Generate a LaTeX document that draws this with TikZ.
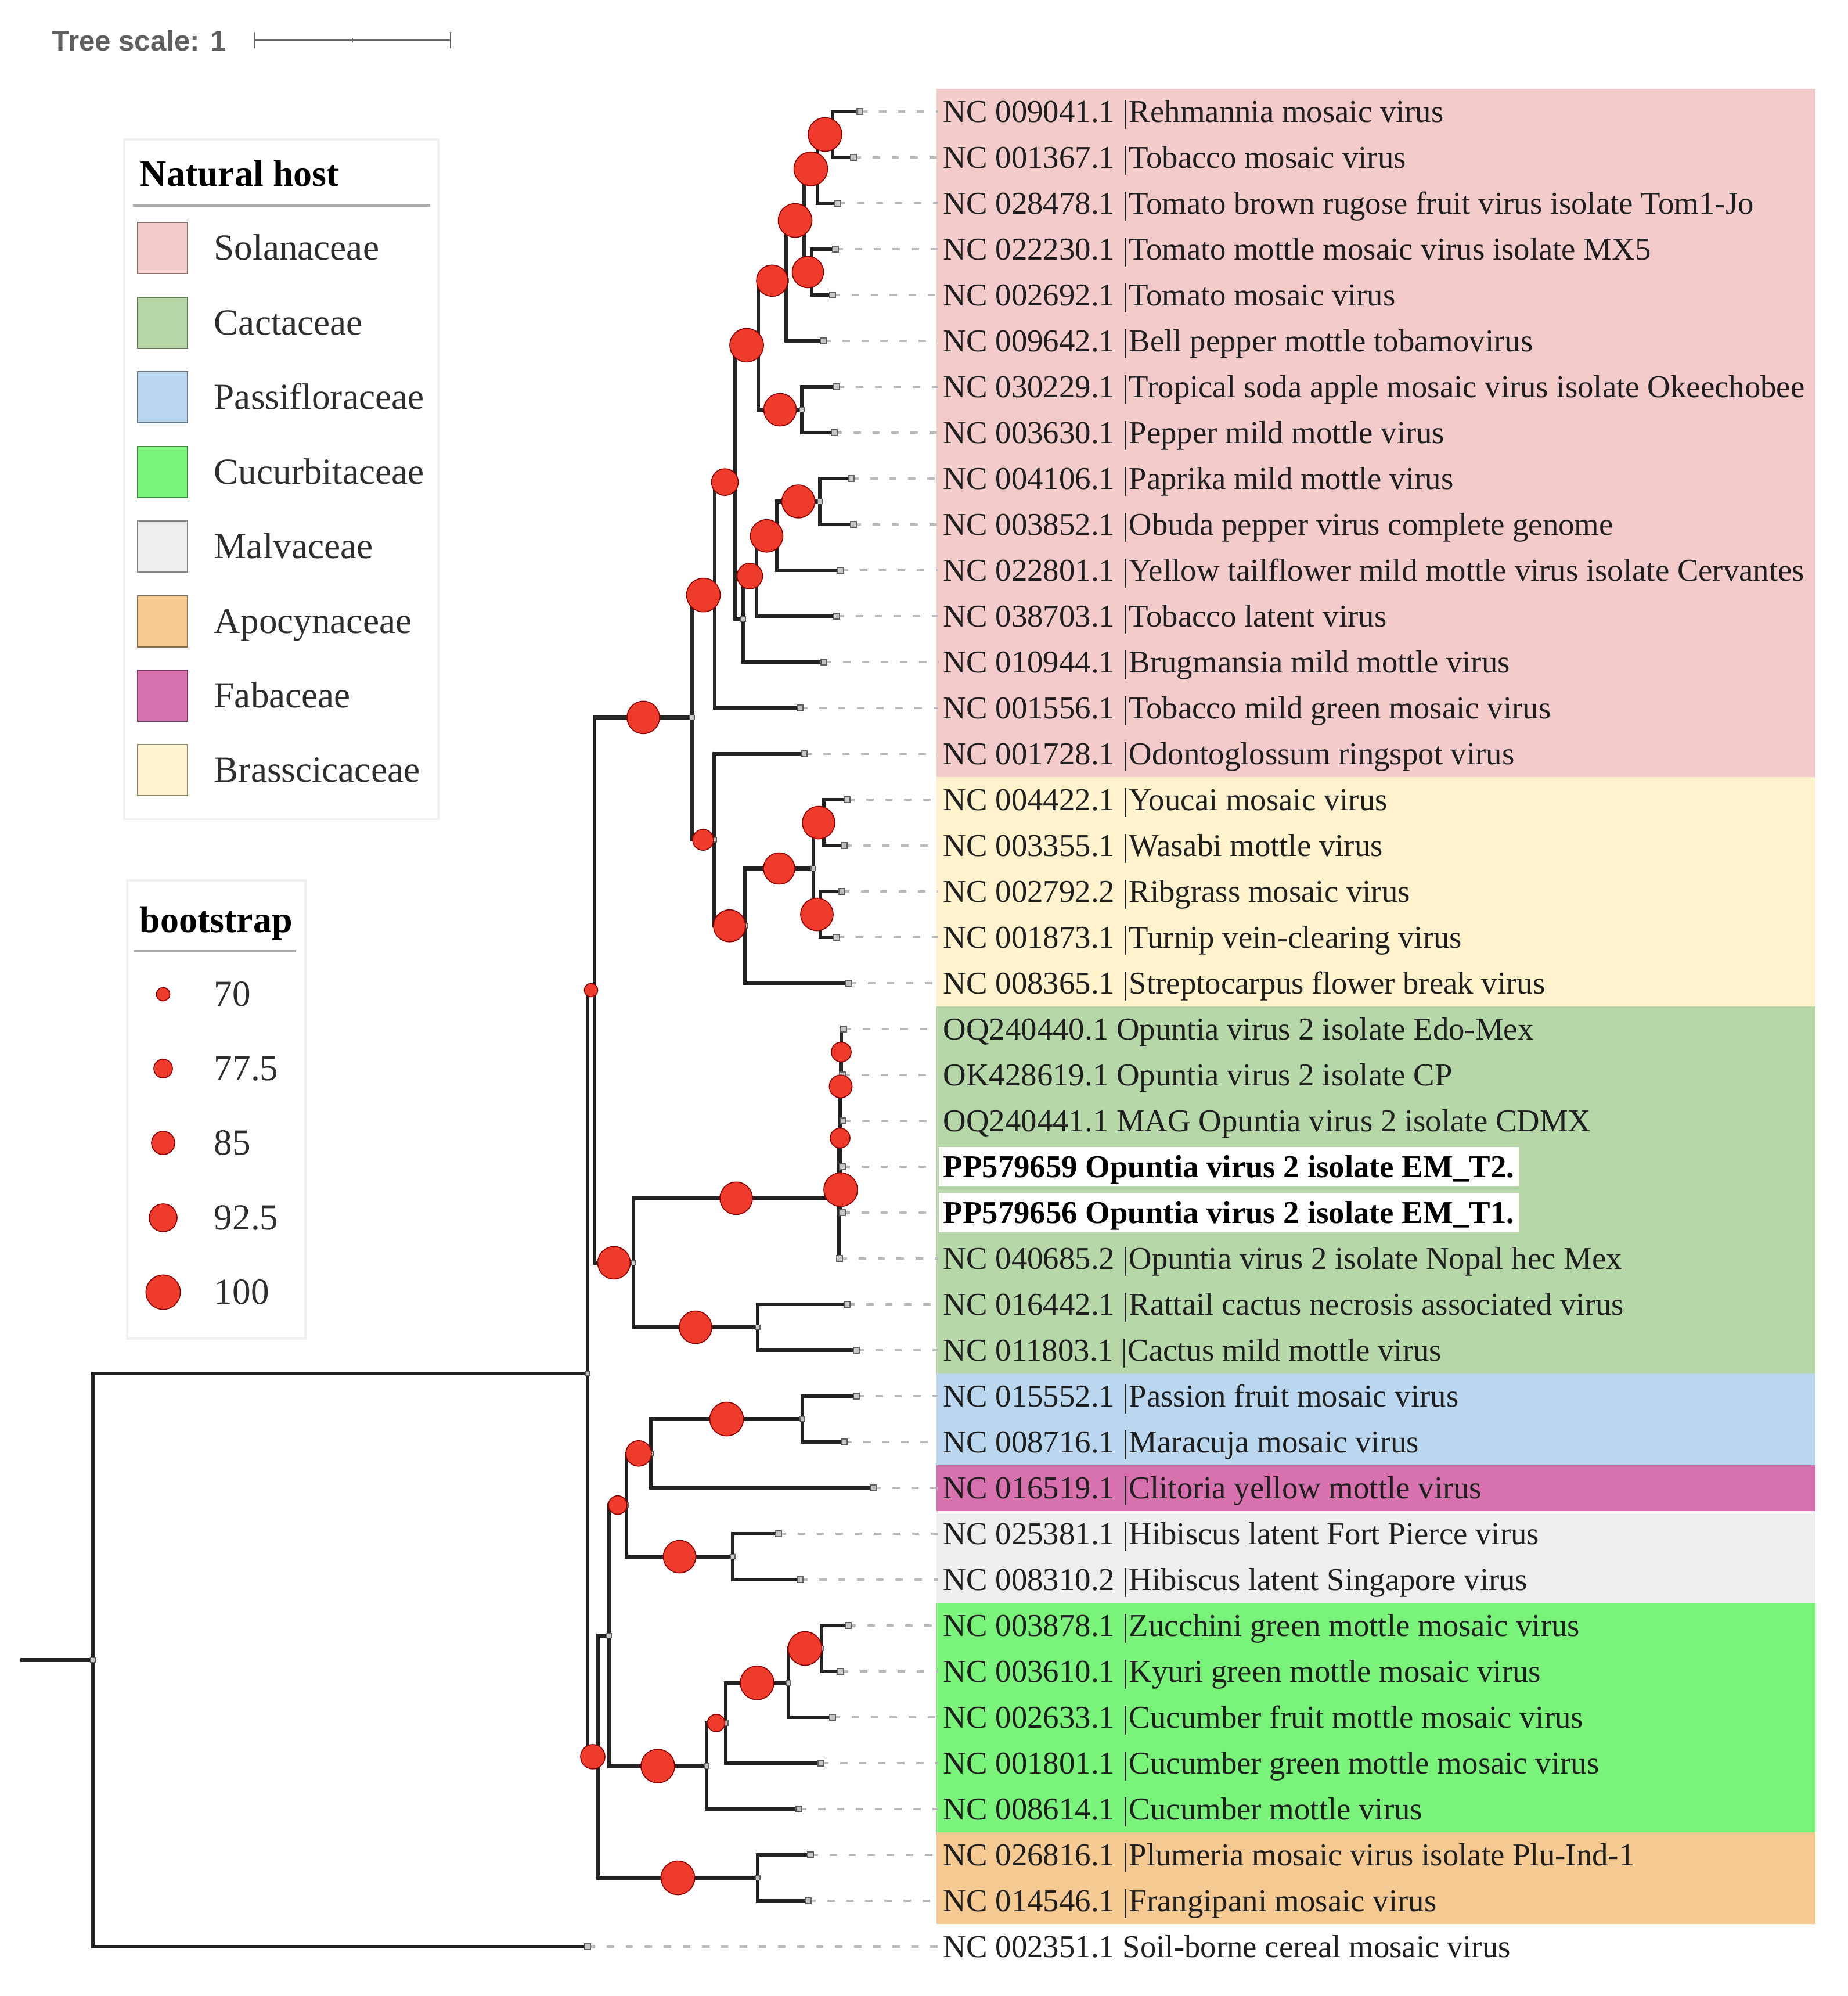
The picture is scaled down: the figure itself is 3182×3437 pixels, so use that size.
\documentclass[tikz,border=0pt]{standalone}
\usepackage{fontspec}
\setmainfont{Liberation Serif}
\newfontfamily\sansfont{Liberation Sans}
\usetikzlibrary{calc}
\definecolor{solc}{RGB}{243,203,203}
\definecolor{cacc}{RGB}{182,215,168}
\definecolor{pasc}{RGB}{187,215,240}
\definecolor{cucc}{RGB}{122,243,122}
\definecolor{malc}{RGB}{238,238,238}
\definecolor{apoc}{RGB}{244,201,146}
\definecolor{fabc}{RGB}{215,114,174}
\definecolor{brac}{RGB}{255,242,204}
\definecolor{bsred}{RGB}{239,59,44}
\definecolor{brcol}{RGB}{34,34,34}
\newcommand{\bsat}[3]{\filldraw[bsdot] ($(#1|-#2)!0.5!(#2)$) circle[radius=#3pt];}
\newcommand{\brn}[3]{\draw[branch] (#1) |- (#2); \draw[branch] (#1) |- (#3);}
\newcommand{\tipmark}[1]{\filldraw[tipm] (#1) ++(-5,-5) rectangle ++(10,10);}
\newcommand{\nodemark}[1]{\filldraw[tipm] (#1) ++(-4,-4) rectangle ++(8,8);}
\begin{document}
\begin{tikzpicture}[x=0.25pt,y=-0.25pt,
  branch/.style={draw=brcol, line width=1.6pt, line join=miter},
  lead/.style={draw=gray!55, line width=1pt, dash pattern=on 3.2pt off 5pt},
  tipm/.style={draw=gray!75!black, fill=gray!45, line width=0.4pt},
  bsdot/.style={fill=bsred, draw=red!55!black, line width=0.4pt},
  lab/.style={anchor=west, inner xsep=2pt, inner ysep=1pt, text height=12pt, text depth=3pt, font=\fontsize{13.7}{16}\selectfont, text=black!88},
  blab/.style={lab, fill=white, font=\fontsize{13.7}{16}\selectfont\bfseries, text=black},
  leglab/.style={anchor=west, inner sep=0pt, text height=13.4pt, text depth=3pt, font=\fontsize{15.8}{18}\selectfont, text=black!82},
  legtitle/.style={anchor=west, inner sep=0pt, text height=13.4pt, text depth=3pt, font=\fontsize{16}{18}\selectfont\bfseries, text=black},
  legbox/.style={draw=gray!12, line width=1pt, fill=white},
  swatch/.style={line width=0.7pt}]
\useasboundingbox (0,0) rectangle (3182,3437);
\fill[white] (0,0) rectangle (3182,3437);

% ---------- tree scale ----------
\node[anchor=west, inner sep=0pt, text height=9pt, text depth=0pt, font=\sansfont\bfseries\fontsize{12.3}{14}\selectfont, text=gray!75!black] (ts) at (89,69) {Tree scale: 1};
\coordinate (sb1) at (439,69);
\coordinate (sb2) at (776,69);
\draw[gray!80!black, line width=0.7pt] (sb1) -- (sb2);
\draw[gray!80!black, line width=0.7pt] (439,55) -- (439,83) (776,55) -- (776,83) (607,65) -- (607,73);

% ---------- legends ----------
\draw[legbox] (214,240) rectangle (755,1410);
\node[legtitle] (lt1) at (240,300) {Natural host};
\draw[gray!65, line width=1pt] (229,354) -- (741,354);
\foreach \c/\t/\y [count=\i] in {solc/Solanaceae/427, cacc/Cactaceae/556, pasc/Passifloraceae/684, cucc/Cucurbitaceae/813, malc/Malvaceae/941, apoc/Apocynaceae/1070, fabc/Fabaceae/1198, brac/Brasscicaceae/1326}{
  \filldraw[swatch, fill=\c, draw=\c!55!black] (237,{\y-44}) rectangle (323,{\y+44});
  \node[leglab] (lg\i) at (368,\y) {\t};
}
\draw[legbox] (219,1516) rectangle (526,2305);
\node[legtitle] (lt2) at (240,1585) {bootstrap};
\draw[gray!65, line width=1pt] (230,1638) -- (510,1638);
\foreach \v/\y/\r [count=\i] in {70/1712/2.9, 77.5/1840/4, 85/1968/5, 92.5/2097/6, 100/2225/7.4}{
  \filldraw[bsdot] (281,\y) circle[radius=\r pt];
  \node[leglab] (bl\i) at (368,\y) {\v};
}

% ---------- host backgrounds ----------
\fill[solc] (1613,152.5) rectangle (3127,1337.5);
\fill[brac] (1613,1337.5) rectangle (3127,1732.5);
\fill[cacc] (1613,1732.5) rectangle (3127,2364.5);
\fill[pasc] (1613,2364.5) rectangle (3127,2522.5);
\fill[fabc] (1613,2522.5) rectangle (3127,2601.5);
\fill[malc] (1613,2601.5) rectangle (3127,2759.5);
\fill[cucc] (1613,2759.5) rectangle (3127,3154.5);
\fill[apoc] (1613,3154.5) rectangle (3127,3312.5);

% ---------- leaves ----------
\coordinate (t0) at (1481,192);
\coordinate (t1) at (1470,271);
\coordinate (t2) at (1443,350);
\coordinate (t3) at (1439,429);
\coordinate (t4) at (1434,508);
\coordinate (t5) at (1418,587);
\coordinate (t6) at (1441,666);
\coordinate (t7) at (1437,745);
\coordinate (t8) at (1466,824);
\coordinate (t9) at (1470,903);
\coordinate (t10) at (1448,982);
\coordinate (t11) at (1441,1061);
\coordinate (t12) at (1419,1140);
\coordinate (t13) at (1378,1219);
\coordinate (t14) at (1385,1298);
\coordinate (t15) at (1459,1377);
\coordinate (t16) at (1454,1456);
\coordinate (t17) at (1450,1535);
\coordinate (t18) at (1441,1614);
\coordinate (t19) at (1462,1693);
\coordinate (t20) at (1453,1772);
\coordinate (t21) at (1451,1851);
\coordinate (t22) at (1452,1930);
\coordinate (t23) at (1451,2009);
\coordinate (t24) at (1451,2088);
\coordinate (t25) at (1446,2167);
\coordinate (t26) at (1459,2246);
\coordinate (t27) at (1475,2325);
\coordinate (t28) at (1475,2404);
\coordinate (t29) at (1454,2483);
\coordinate (t30) at (1504,2562);
\coordinate (t31) at (1341,2641);
\coordinate (t32) at (1378,2720);
\coordinate (t33) at (1461,2799);
\coordinate (t34) at (1448,2878);
\coordinate (t35) at (1434,2957);
\coordinate (t36) at (1414,3036);
\coordinate (t37) at (1376,3115);
\coordinate (t38) at (1396,3194);
\coordinate (t39) at (1392,3273);
\coordinate (t40) at (1012,3352);

% ---------- labels ----------
\node[lab] (l0) at (1616,192) {NC 009041.1 |Rehmannia mosaic virus};
\node[lab] (l1) at (1616,271) {NC 001367.1 |Tobacco mosaic virus};
\node[lab] (l2) at (1616,350) {NC 028478.1 |Tomato brown rugose fruit virus isolate Tom1-Jo};
\node[lab] (l3) at (1616,429) {NC 022230.1 |Tomato mottle mosaic virus isolate MX5};
\node[lab] (l4) at (1616,508) {NC 002692.1 |Tomato mosaic virus};
\node[lab] (l5) at (1616,587) {NC 009642.1 |Bell pepper mottle tobamovirus};
\node[lab] (l6) at (1616,666) {NC 030229.1 |Tropical soda apple mosaic virus isolate Okeechobee};
\node[lab] (l7) at (1616,745) {NC 003630.1 |Pepper mild mottle virus};
\node[lab] (l8) at (1616,824) {NC 004106.1 |Paprika mild mottle virus};
\node[lab] (l9) at (1616,903) {NC 003852.1 |Obuda pepper virus complete genome};
\node[lab] (l10) at (1616,982) {NC 022801.1 |Yellow tailflower mild mottle virus isolate Cervantes};
\node[lab] (l11) at (1616,1061) {NC 038703.1 |Tobacco latent virus};
\node[lab] (l12) at (1616,1140) {NC 010944.1 |Brugmansia mild mottle virus};
\node[lab] (l13) at (1616,1219) {NC 001556.1 |Tobacco mild green mosaic virus};
\node[lab] (l14) at (1616,1298) {NC 001728.1 |Odontoglossum ringspot virus};
\node[lab] (l15) at (1616,1377) {NC 004422.1 |Youcai mosaic virus};
\node[lab] (l16) at (1616,1456) {NC 003355.1 |Wasabi mottle virus};
\node[lab] (l17) at (1616,1535) {NC 002792.2 |Ribgrass mosaic virus};
\node[lab] (l18) at (1616,1614) {NC 001873.1 |Turnip vein-clearing virus};
\node[lab] (l19) at (1616,1693) {NC 008365.1 |Streptocarpus flower break virus};
\node[lab] (l20) at (1616,1772) {OQ240440.1 Opuntia virus 2 isolate Edo-Mex};
\node[lab] (l21) at (1616,1851) {OK428619.1 Opuntia virus 2 isolate CP};
\node[lab] (l22) at (1616,1930) {OQ240441.1 MAG Opuntia virus 2 isolate CDMX};
\node[blab] (l23) at (1616,2009) {PP579659 Opuntia virus 2 isolate EM\_T2.\hspace{7pt}};
\node[blab] (l24) at (1616,2088) {PP579656 Opuntia virus 2 isolate EM\_T1.\hspace{2pt}};
\node[lab] (l25) at (1616,2167) {NC 040685.2 |Opuntia virus 2 isolate Nopal hec Mex};
\node[lab] (l26) at (1616,2246) {NC 016442.1 |Rattail cactus necrosis associated virus};
\node[lab] (l27) at (1616,2325) {NC 011803.1 |Cactus mild mottle virus};
\node[lab] (l28) at (1616,2404) {NC 015552.1 |Passion fruit mosaic virus};
\node[lab] (l29) at (1616,2483) {NC 008716.1 |Maracuja mosaic virus};
\node[lab] (l30) at (1616,2562) {NC 016519.1 |Clitoria yellow mottle virus};
\node[lab] (l31) at (1616,2641) {NC 025381.1 |Hibiscus latent Fort Pierce virus};
\node[lab] (l32) at (1616,2720) {NC 008310.2 |Hibiscus latent Singapore virus};
\node[lab] (l33) at (1616,2799) {NC 003878.1 |Zucchini green mottle mosaic virus};
\node[lab] (l34) at (1616,2878) {NC 003610.1 |Kyuri green mottle mosaic virus};
\node[lab] (l35) at (1616,2957) {NC 002633.1 |Cucumber fruit mottle mosaic virus};
\node[lab] (l36) at (1616,3036) {NC 001801.1 |Cucumber green mottle mosaic virus};
\node[lab] (l37) at (1616,3115) {NC 008614.1 |Cucumber mottle virus};
\node[lab] (l38) at (1616,3194) {NC 026816.1 |Plumeria mosaic virus isolate Plu-Ind-1};
\node[lab] (l39) at (1616,3273) {NC 014546.1 |Frangipani mosaic virus};
\node[lab] (l40) at (1616,3352) {NC 002351.1 Soil-borne cereal mosaic virus};

% ---------- leaders ----------
\foreach \i in {0,...,40}{ \draw[lead] (t\i) -- (l\i.west); }

% ---------- internal nodes ----------
\coordinate (nA) at (1434,231.5);
\coordinate (nB) at (1408,290.75);
\coordinate (nD) at (1398,468.5);
\coordinate (nC) at (1385,379.6);
\coordinate (nE) at (1354,483.3);
\coordinate (nG) at (1381,705.5);
\coordinate (nF) at (1306,594.4);
\coordinate (nI) at (1412,863.5);
\coordinate (nJ) at (1338,922.75);
\coordinate (nK) at (1303,991.9);
\coordinate (nL) at (1280,1065.9);
\coordinate (nH) at (1266,830.15);
\coordinate (nM) at (1231,1024.6);
\coordinate (nR) at (1419,1416.5);
\coordinate (nS) at (1413,1574.5);
\coordinate (nQ) at (1401,1495.5);
\coordinate (nP) at (1283,1594.25);
\coordinate (nO) at (1230,1446.1);
\coordinate (nN) at (1192,1235.35);
\coordinate (oa) at (1449,1811.5);
\coordinate (ob) at (1448,1870.75);
\coordinate (oc) at (1448,2048.5);
\coordinate (od) at (1447,1959.6);
\coordinate (nW) at (1445,2063.3);
\coordinate (nX) at (1305,2285.5);
\coordinate (nV) at (1091,2174.4);
\coordinate (nT) at (1024,1704.9);
\coordinate (nAH) at (1382,2443.5);
\coordinate (nAF) at (1121,2502.75);
\coordinate (nAG) at (1262,2680.5);
\coordinate (nAE) at (1079,2591.6);
\coordinate (nAD) at (1415,2838.5);
\coordinate (nAC) at (1358,2897.75);
\coordinate (nAB) at (1250,2966.9);
\coordinate (nAA) at (1217,3041);
\coordinate (nY) at (1049,2816.3);
\coordinate (nZ) at (1305,3233.5);
\coordinate (nU) at (1030,3024.9);
\coordinate (nB1) at (1012,2364.9);
\coordinate (root) at (160,2858.4);
\coordinate (stub) at (35,2858.4);

% ---------- branches ----------
\brn{nA}{t0}{t1}
\brn{nB}{nA}{t2}
\brn{nD}{t3}{t4}
\brn{nC}{nB}{nD}
\brn{nE}{nC}{t5}
\brn{nG}{t6}{t7}
\brn{nF}{nE}{nG}
\brn{nI}{t8}{t9}
\brn{nJ}{nI}{t10}
\brn{nK}{nJ}{t11}
\brn{nL}{nK}{t12}
\brn{nH}{nF}{nL}
\brn{nM}{nH}{t13}
\brn{nR}{t15}{t16}
\brn{nS}{t17}{t18}
\brn{nQ}{nR}{nS}
\brn{nP}{nQ}{t19}
\brn{nO}{t14}{nP}
\brn{nN}{nM}{nO}
\brn{oa}{t20}{t21}
\brn{ob}{oa}{t22}
\brn{oc}{t23}{t24}
\brn{od}{ob}{oc}
\brn{nW}{od}{t25}
\brn{nX}{t26}{t27}
\brn{nV}{nW}{nX}
\brn{nT}{nN}{nV}
\brn{nAH}{t28}{t29}
\brn{nAF}{nAH}{t30}
\brn{nAG}{t31}{t32}
\brn{nAE}{nAF}{nAG}
\brn{nAD}{t33}{t34}
\brn{nAC}{nAD}{t35}
\brn{nAB}{nAC}{t36}
\brn{nAA}{nAB}{t37}
\brn{nY}{nAE}{nAA}
\brn{nZ}{t38}{t39}
\brn{nU}{nY}{nZ}
\brn{nB1}{nT}{nU}
\brn{root}{nB1}{t40}
\draw[branch] (stub) -- (root);

% ---------- markers ----------
\foreach \i in {0,...,40}{ \tipmark{t\i} }
\foreach \n in {nA,nB,nC,nD,nE,nF,nG,nH,nI,nJ,nK,nL,nM,nN,nO,nP,nQ,nR,nS,nW,nX,nV,nT,nAH,nAF,nAG,nAE,nAD,nAC,nAB,nAA,nY,nZ,nU,nB1,root}{ \nodemark{\n} }

% ---------- bootstrap circles ----------
\bsat{nB}{nA}{7.25}
\bsat{nC}{nB}{7.25}
\bsat{nE}{nC}{7.25}
\bsat{nC}{nD}{6.75}
\bsat{nF}{nE}{6.75}
\bsat{nH}{nF}{7.25}
\bsat{nF}{nG}{7}
\bsat{nM}{nH}{5.75}
\bsat{nJ}{nI}{7.1}
\bsat{nK}{nJ}{7}
\bsat{nL}{nK}{5.5}
\bsat{nN}{nM}{7.25}
\bsat{nT}{nN}{7}
\bsat{nN}{nO}{4.5}
\bsat{nO}{nP}{6.9}
\bsat{nP}{nQ}{6.75}
\bsat{nQ}{nR}{7}
\bsat{nQ}{nS}{7}
\bsat{nB1}{nT}{2.9}
\bsat{nT}{nV}{7}
\bsat{nV}{nW}{7}
\filldraw[bsdot] (oa) circle[radius=4.25pt];
\filldraw[bsdot] (ob) circle[radius=4.9pt];
\filldraw[bsdot] (od) circle[radius=4.25pt];
\filldraw[bsdot] (oc) circle[radius=7.25pt];
\bsat{nV}{nX}{7}
\bsat{nY}{nAE}{4}
\bsat{nAE}{nAF}{5.5}
\bsat{nAF}{nAH}{7.25}
\bsat{nAE}{nAG}{7}
\bsat{nY}{nAA}{7.25}
\bsat{nAA}{nAB}{3.75}
\bsat{nAB}{nAC}{7.25}
\bsat{nAC}{nAD}{7.25}
\bsat{nU}{nZ}{7.25}
\bsat{nB1}{nU}{5.25}
\end{tikzpicture}
\end{document}
